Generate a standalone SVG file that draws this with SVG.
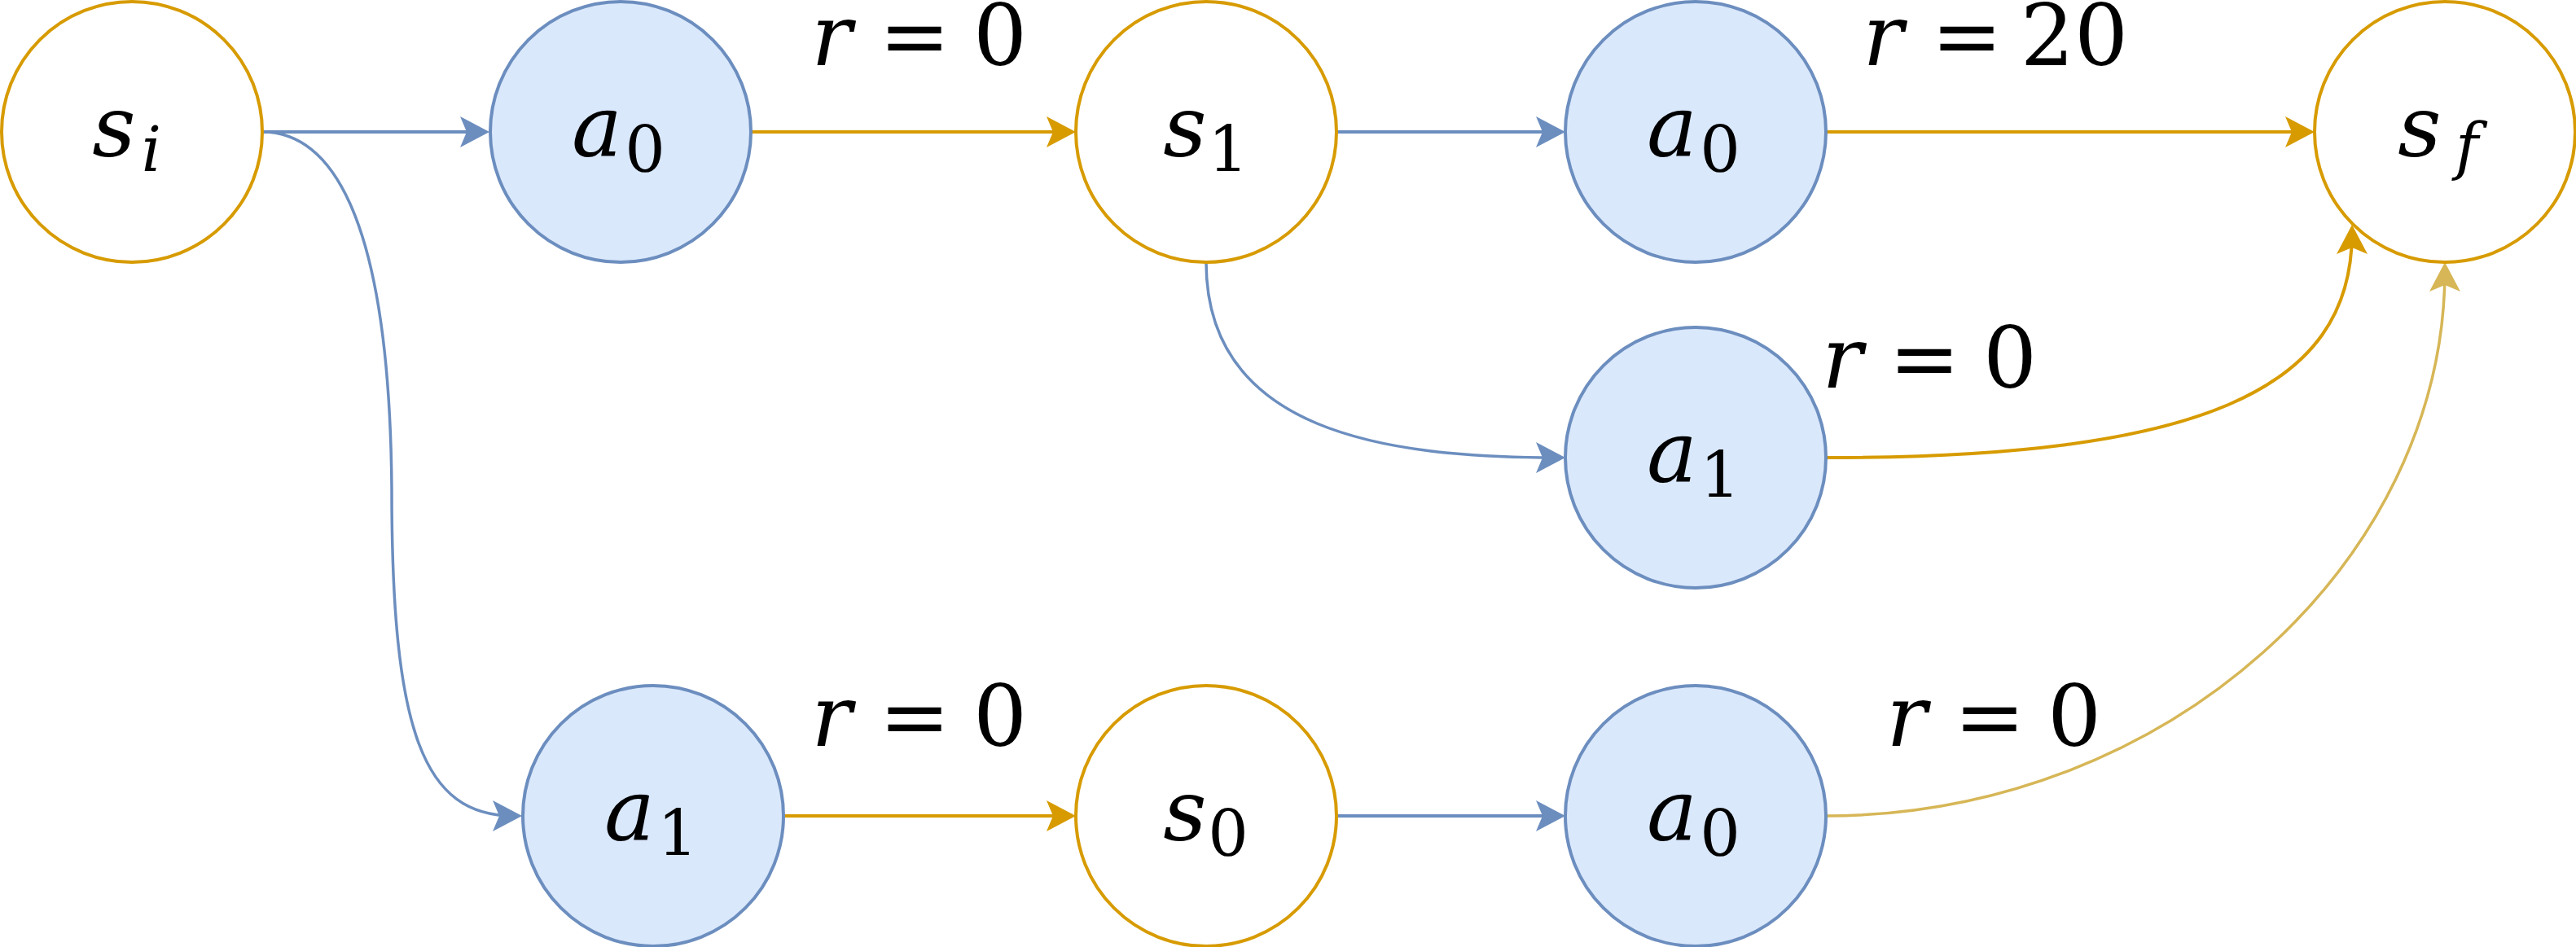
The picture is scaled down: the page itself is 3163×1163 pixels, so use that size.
<svg xmlns="http://www.w3.org/2000/svg" width="3163" height="1163" viewBox="0 0 3163 1163">
<style>
.st{fill:#ffffff;stroke:#d79b00;stroke-width:4}
.ac{fill:#dae8fc;stroke:#6c8ebf;stroke-width:4}
.eb{fill:none;stroke:#6c8ebf;stroke-width:4}
.eg{fill:none;stroke:#d79b00;stroke-width:4}
.ep{fill:none;stroke:#d6b656;stroke-width:3.5}
.cb{fill:none;stroke:#6c8ebf;stroke-width:3.5}
.cg{fill:none;stroke:#d79b00;stroke-width:4}
.m{font-size:104px}
.i{font-style:italic}
.sd{font-size:78px}
.sl{font-size:76px;font-style:italic}
</style>
<defs>
<marker id="mb" viewBox="-26 -19 36 38" refX="0" refY="0" markerWidth="36" markerHeight="38" markerUnits="userSpaceOnUse" orient="auto"><path d="M10,0 L-26,-19 L-18,0 L-26,19 Z" fill="#6c8ebf"/></marker>
<marker id="mg" viewBox="-26 -19 36 38" refX="0" refY="0" markerWidth="36" markerHeight="38" markerUnits="userSpaceOnUse" orient="auto"><path d="M10,0 L-26,-19 L-18,0 L-26,19 Z" fill="#d79b00"/></marker>
<marker id="mp" viewBox="-26 -19 36 38" refX="0" refY="0" markerWidth="36" markerHeight="38" markerUnits="userSpaceOnUse" orient="auto"><path d="M10,0 L-26,-19 L-18,0 L-26,19 Z" fill="#d6b656"/></marker>
</defs>
<g id="connectors">
<path class="eb" d="M322,162 L591,162" marker-end="url(#mb)"/>
<path class="eg" d="M922,162 L1311,162" marker-end="url(#mg)"/>
<path class="eb" d="M1641,162 L1912,162" marker-end="url(#mb)"/>
<path class="eg" d="M2242,162 L2832,162" marker-end="url(#mg)"/>
<path class="cb" d="M322,162 C400,162 478,250 481,600 C481,900 520,1002 631,1002" marker-end="url(#mb)"/>
<path class="eg" d="M962,1002 L1311,1002" marker-end="url(#mg)"/>
<path class="eb" d="M1641,1002 L1912,1002" marker-end="url(#mb)"/>
<path class="cb" d="M1481,322 C1481,530 1700,562 1912,562" marker-end="url(#mb)"/>
<path class="cg" d="M2242,562 C2700,562 2888,480 2888,286" marker-end="url(#mg)"/>
<path class="ep" d="M2242,1002 C2660,1002 3002,690 3002,332" marker-end="url(#mp)"/>
</g>
<g font-family="DejaVu Serif, serif" fill="#000000" text-anchor="middle">
<g id="labels">
<text class="m" y="80"><tspan class="i" x="1021">r</tspan><tspan x="1123">=</tspan><tspan x="1228">0</tspan></text>
<text class="m" y="80"><tspan class="i" x="2312">r</tspan><tspan x="2415">=</tspan><tspan x="2547">20</tspan></text>
<text class="m" y="476"><tspan class="i" x="2262">r</tspan><tspan x="2363">=</tspan><tspan x="2468">0</tspan></text>
<text class="m" y="916"><tspan class="i" x="1021">r</tspan><tspan x="1123">=</tspan><tspan x="1228">0</tspan></text>
<text class="m" y="916"><tspan class="i" x="2341">r</tspan><tspan x="2443">=</tspan><tspan x="2547">0</tspan></text>
</g>
<g id="node-si">
<circle class="st" cx="162" cy="162" r="160"/>
<text class="m i" x="140" y="192">s</text><text class="sl" x="186" y="210">i</text>
</g>
<g id="node-a0-top">
<circle class="ac" cx="762" cy="162" r="160"/>
<text class="m i" x="733" y="192">a</text><text class="sd" x="792" y="211">0</text>
</g>
<g id="node-s1">
<circle class="st" cx="1481" cy="162" r="160"/>
<text class="m i" x="1455" y="192">s</text><text class="sd" x="1508" y="211">1</text>
</g>
<g id="node-a0-top2">
<circle class="ac" cx="2082" cy="162" r="160"/>
<text class="m i" x="2053" y="192">a</text><text class="sd" x="2112" y="211">0</text>
</g>
<g id="node-sf">
<circle class="st" cx="3002" cy="162" r="160"/>
<text class="m i" x="2971" y="192">s</text><text class="sl" x="3029" y="206">f</text>
</g>
<g id="node-a1-mid">
<circle class="ac" cx="2082" cy="562" r="160"/>
<text class="m i" x="2053" y="592">a</text><text class="sd" x="2112" y="611">1</text>
</g>
<g id="node-a1-bottom">
<circle class="ac" cx="802" cy="1002" r="160"/>
<text class="m i" x="773" y="1032">a</text><text class="sd" x="832" y="1051">1</text>
</g>
<g id="node-s0">
<circle class="st" cx="1481" cy="1002" r="160"/>
<text class="m i" x="1455" y="1032">s</text><text class="sd" x="1508" y="1051">0</text>
</g>
<g id="node-a0-bottom">
<circle class="ac" cx="2082" cy="1002" r="160"/>
<text class="m i" x="2053" y="1032">a</text><text class="sd" x="2112" y="1051">0</text>
</g>
</g>
</svg>
